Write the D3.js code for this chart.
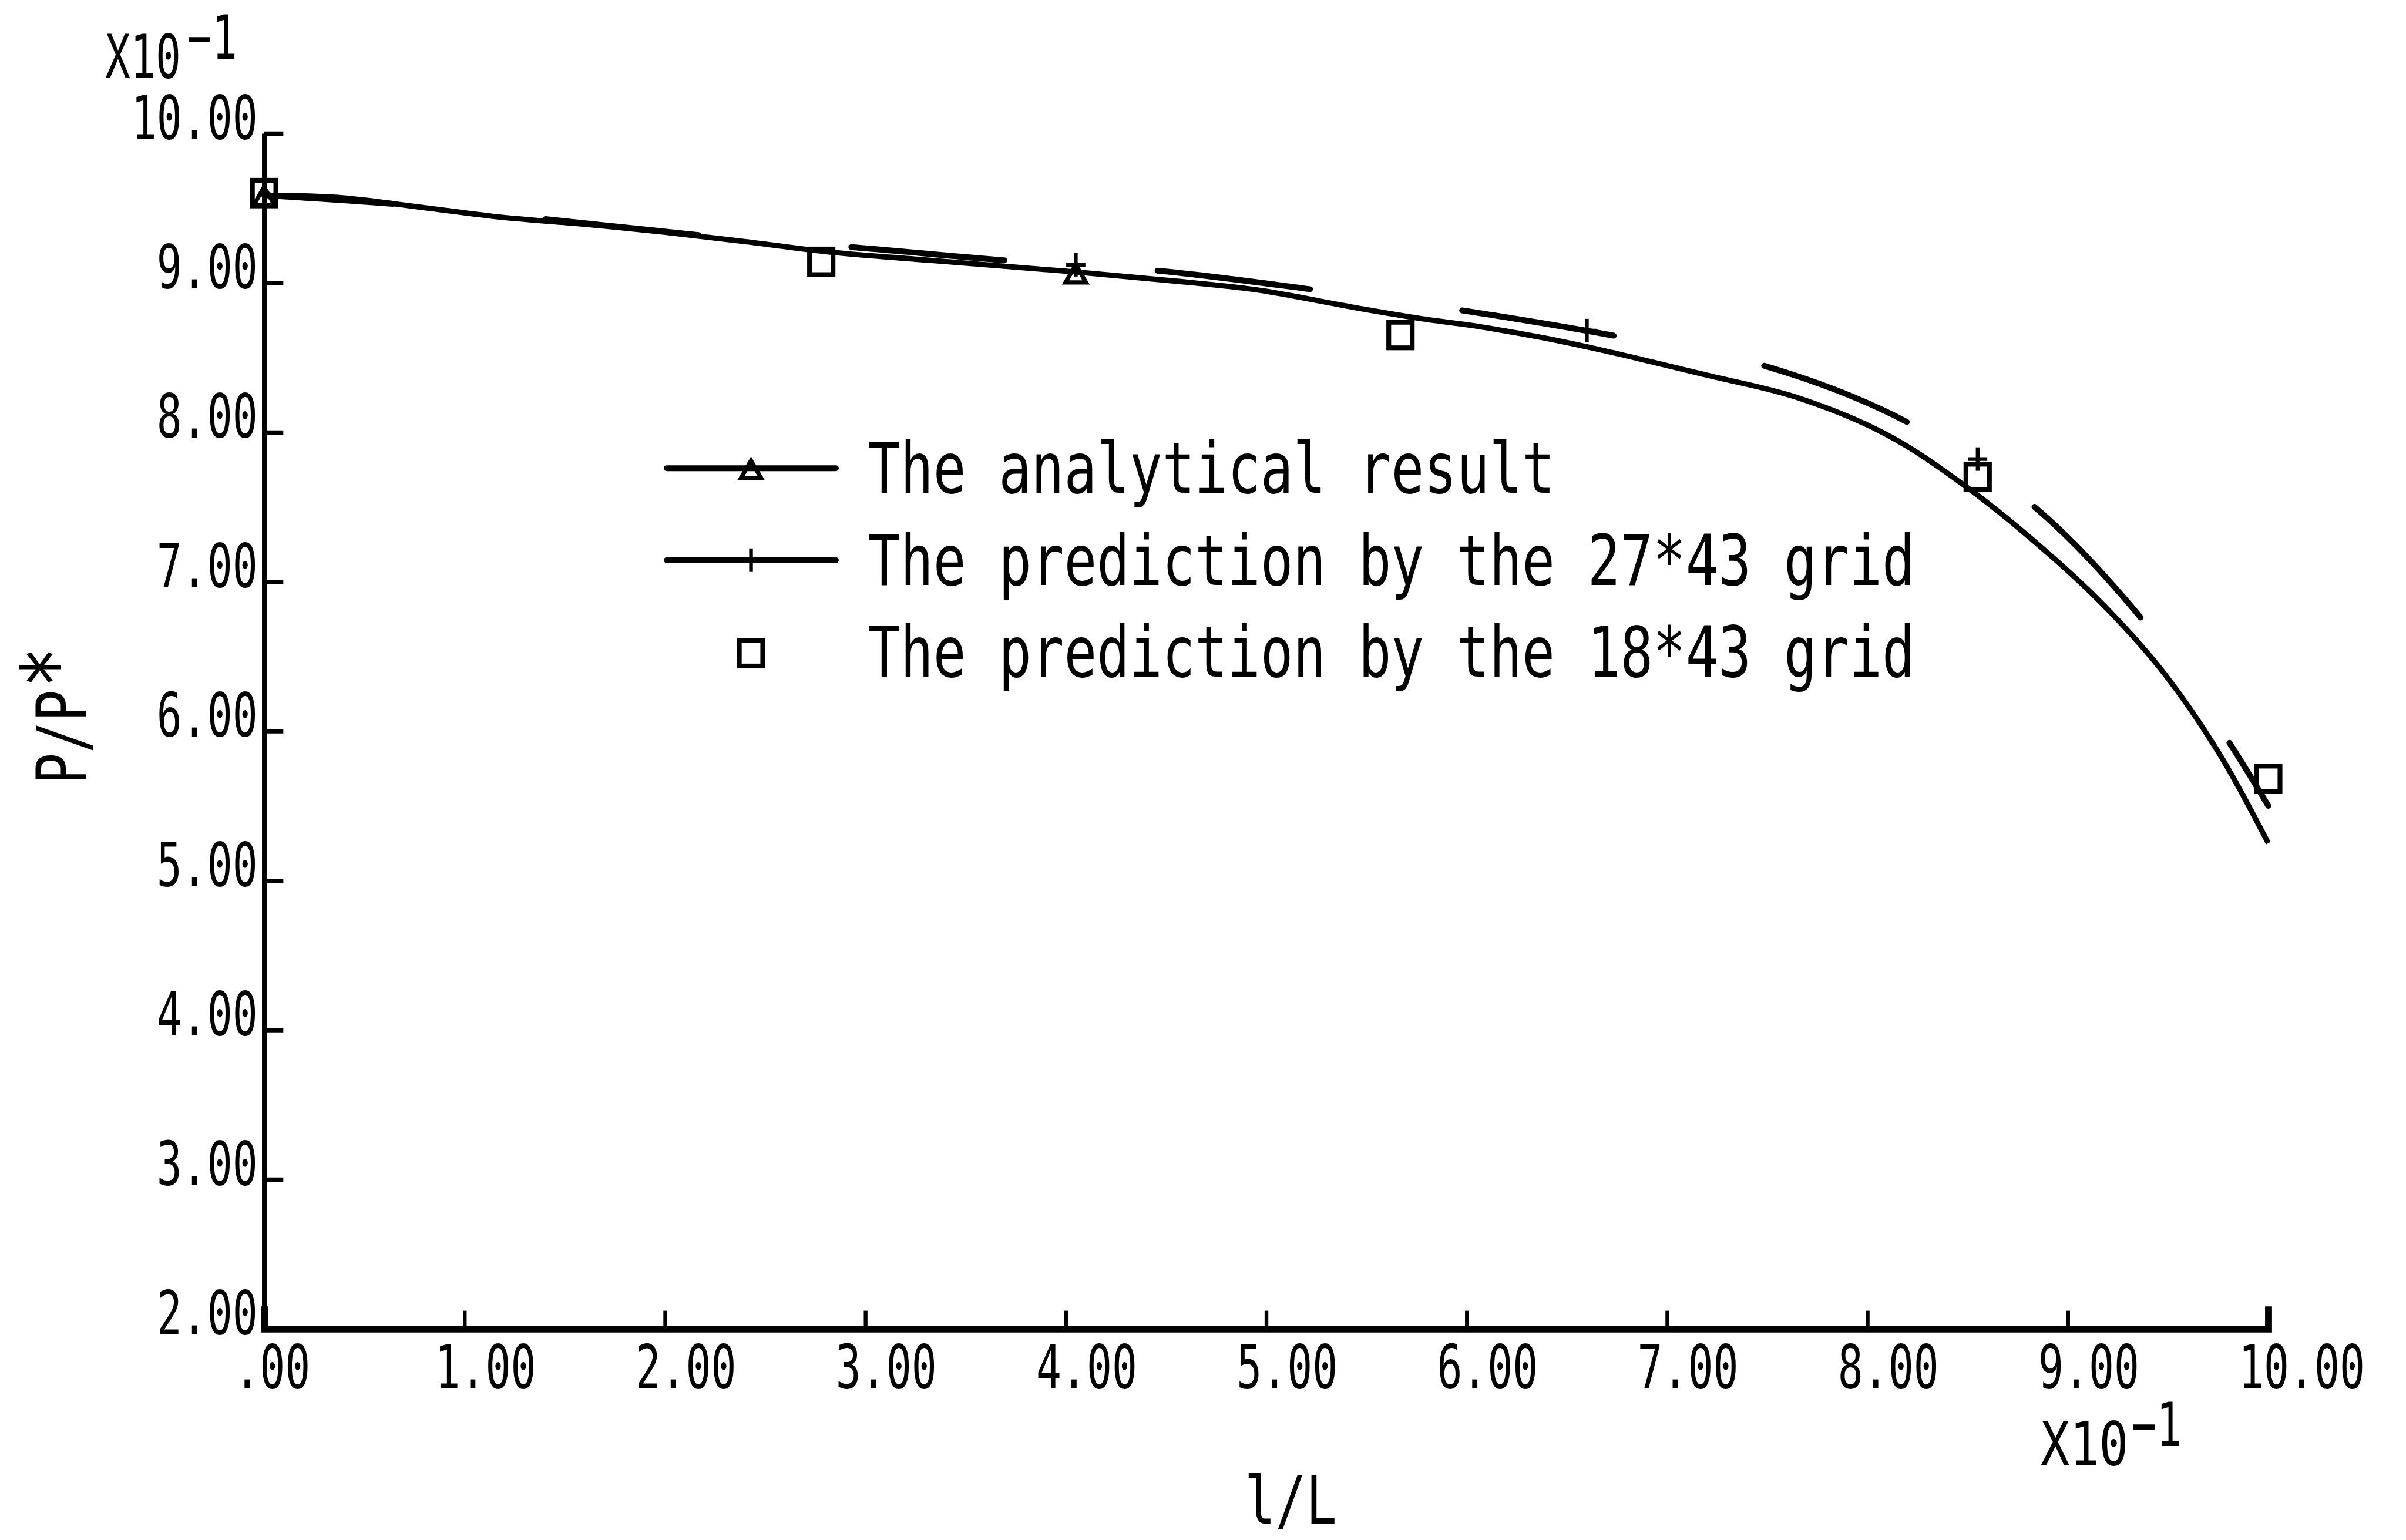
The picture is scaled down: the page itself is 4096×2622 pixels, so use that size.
<!DOCTYPE html>
<html>
<head>
<meta charset="utf-8">
<script src="https://cdn.jsdelivr.net/npm/d3@7"></script>
<style>
  html, body { margin: 0; padding: 0; background: #fff; }
  svg { display: block; background: #fff; }
  text { font-family: "DejaVu Sans Mono", "Liberation Mono", monospace; fill: #000; }
</style>
</head>
<body>
<svg id="chart" width="4096" height="2622" viewBox="0 0 4511 2888"></svg>
<script>
// ---- data (l/L and P/P*, both in units of 10^-1) ----
const analyticalX = [0, 0.367, 0.774, 1.181, 1.589, 1.996, 2.403, 2.810, 3.324, 4.058, 4.548, 4.944,
                     5.463, 5.769, 6.075, 6.381, 6.684, 7.198, 7.642, 8.087, 8.499,
                     8.941, 9.212, 9.484, 9.755, 10.0];
const analyticalY = [9.586, 9.571, 9.507, 9.439, 9.393, 9.339, 9.275, 9.207, 9.150, 9.071, 9.011, 8.954,
                     8.829, 8.761, 8.704, 8.632, 8.546, 8.382, 8.235, 7.990, 7.629,
                     7.143, 6.796, 6.380, 5.850, 5.25];
const triangleX = [0, 4.05];
const triangleY = [9.59, 9.07];

const grid27X = [0, 0.774, 1.589, 2.403, 2.927, 3.691, 4.470, 5.218, 5.982, 6.746, 7.488, 8.198, 8.821, 9.345, 9.768, 10.0];
const grid27Y = [9.586, 9.514, 9.400, 9.289, 9.239, 9.150, 9.079, 8.957, 8.814, 8.643, 8.443, 8.068, 7.514, 6.789, 6.000, 5.50];
const plusX = [4.05, 6.60, 8.55];
const plusY = [9.12, 8.68, 7.82];

const grid18X = [0, 2.78, 5.67, 8.55, 10.0];
const grid18Y = [9.60, 9.14, 8.65, 7.70, 5.68];

const xTickValues = [0, 1, 2, 3, 4, 5, 6, 7, 8, 9, 10];
const xTickLabels = [".00", "1.00", "2.00", "3.00", "4.00", "5.00", "6.00", "7.00", "8.00", "9.00", "10.00"];
const yTickValues = [2, 3, 4, 5, 6, 7, 8, 9, 10];
const yTickLabels = ["2.00", "3.00", "4.00", "5.00", "6.00", "7.00", "8.00", "9.00", "10.00"];

const legendLabels = ["The analytical result", "The prediction by the 27*43 grid", "The prediction by the 18*43 grid"];

// ---- layout ----
const svg = d3.select("#chart");
const x = d3.scaleLinear().domain([0, 10]).range([495, 4253]);
const y = d3.scaleLinear().domain([2, 10]).range([2492, 250]);

const SMALL = 114, SMALL_SX = 0.69;   // tick labels, exponent labels
const BIG = 132, BIG_SX = 0.772;      // legend and axis titles

function plotText(parent, px, py, str, size, sx, anchor, rot) {
  return parent.append("text")
    .attr("transform", `translate(${px},${py})${rot ? ` rotate(${rot})` : ""} scale(${sx},1)`)
    .attr("text-anchor", anchor || "start")
    .attr("font-size", size)
    .text(str);
}

// ---- axes ----
const xAxis = d3.axisBottom(x)
  .tickValues(xTickValues)
  .tickFormat((d, i) => xTickLabels[i])
  .tickSize(-34)
  .tickSizeOuter(-42);
const gx = svg.append("g").attr("transform", `translate(0,${y(2)})`).call(xAxis);
gx.attr("font-size", null).attr("font-family", null);
gx.select(".domain").attr("stroke", "#000").attr("stroke-width", 13).attr("fill", "none");
gx.selectAll(".tick line").attr("stroke", "#000").attr("stroke-width", 7);
gx.selectAll(".tick").filter(d => d === 0).select("line").remove();
gx.selectAll(".tick text")
  .attr("y", null).attr("dy", null)
  .attr("text-anchor", "start")
  .attr("font-size", SMALL)
  .attr("fill", "#000")
  .attr("transform", `translate(-56,112) scale(${SMALL_SX},1)`);

const yAxis = d3.axisLeft(y)
  .tickValues(yTickValues)
  .tickFormat((d, i) => yTickLabels[i])
  .tickSize(-36)
  .tickSizeOuter(0);
const gy = svg.append("g").attr("transform", `translate(${x(0)},0)`).call(yAxis);
gy.attr("font-size", null).attr("font-family", null);
gy.select(".domain").attr("stroke", "#000").attr("stroke-width", 9).attr("fill", "none");
gy.selectAll(".tick line").attr("stroke", "#000").attr("stroke-width", 8);
gy.selectAll(".tick text")
  .attr("x", null).attr("dy", null)
  .attr("text-anchor", "end")
  .attr("font-size", SMALL)
  .attr("fill", "#000")
  .attr("transform", `translate(-12,10) scale(${SMALL_SX},1)`);

// exponent notes and axis titles
plotText(svg, 197, 146, "X10", SMALL, SMALL_SX);
plotText(svg, 350, 110, "\u22121", SMALL, SMALL_SX);
plotText(svg, 3826, 2748, "X10", SMALL, 0.8);
plotText(svg, 3996, 2712, "\u22121", SMALL, SMALL_SX);
plotText(svg, 2420, 2857, "l/L", 124, 0.77, "middle");
plotText(svg, 162, 1471, "P/P", 130, 0.754, "start", -90);
plotText(svg, 162, 1290, "*", 170, 0.754, "start", -90);

// ---- curves ----
const line = d3.line()
  .x(d => x(d[0]))
  .y(d => y(d[1]))
  .curve(d3.curveCatmullRom.alpha(0.5));

const analytical = analyticalX.map((v, i) => [v, analyticalY[i]]);
const grid27 = grid27X.map((v, i) => [v, grid27Y[i]]);

svg.append("path")
  .datum(analytical)
  .attr("d", line)
  .attr("fill", "none")
  .attr("stroke", "#000")
  .attr("stroke-width", 10)
  .attr("stroke-linejoin", "round");

const path27 = svg.append("path")
  .datum(grid27)
  .attr("d", line)
  .attr("fill", "none")
  .attr("stroke", "#000")
  .attr("stroke-width", 11)
  .attr("stroke-linecap", "round")
  .attr("stroke-linejoin", "round");

// long-dash pen pattern, phased so a dash begins at l/L = 2.93
const dashOn = 288, dashOff = 288, dashPhaseX = 2.93;
{
  const node = path27.node();
  const total = node.getTotalLength();
  let lo = 0, hi = total;
  for (let k = 0; k < 40; k++) {
    const mid = (lo + hi) / 2;
    if (node.getPointAtLength(mid).x < x(dashPhaseX)) lo = mid; else hi = mid;
  }
  const period = dashOn + dashOff;
  path27.attr("stroke-dasharray", `${dashOn} ${dashOff}`)
        .attr("stroke-dashoffset", period - (lo % period));
}

// ---- markers ----
const triSym = d3.symbol().type(d3.symbolTriangle).size(640);
function drawTriangle(g, px, py) {
  g.append("path").attr("d", triSym())
    .attr("transform", `translate(${px},${py + 8})`)
    .attr("fill", "none").attr("stroke", "#000").attr("stroke-width", 8);
}
function drawPlus(g, px, py) {
  g.append("line").attr("x1", px).attr("x2", px).attr("y1", py - 22).attr("y2", py + 22)
    .attr("stroke", "#000").attr("stroke-width", 7);
  g.append("line").attr("x1", px - 18).attr("x2", px + 18).attr("y1", py).attr("y2", py)
    .attr("stroke", "#000").attr("stroke-width", 7);
}
function drawSquare(g, px, py) {
  g.append("rect").attr("x", px - 22).attr("y", py - 24).attr("width", 44).attr("height", 48)
    .attr("fill", "none").attr("stroke", "#000").attr("stroke-width", 9);
}

const marks = svg.append("g");
triangleX.forEach((v, i) => drawTriangle(marks, x(v), y(triangleY[i])));
plusX.forEach((v, i) => drawPlus(marks, x(v), y(plusY[i])));
grid18X.forEach((v, i) => drawSquare(marks, x(v), y(grid18Y[i])));

// ---- legend ----
const legend = svg.append("g");
const legBase = 924, legGap = 172.5, legLineX0 = 1250, legLineX1 = 1567, legMarkX = 1408, legTextX = 1627;
legendLabels.forEach((label, i) => {
  const base = legBase + i * legGap;
  const my = base - 46;
  if (i < 2) {
    legend.append("line").attr("x1", legLineX0).attr("x2", legLineX1).attr("y1", my).attr("y2", my)
      .attr("stroke", "#000").attr("stroke-width", 11).attr("stroke-linecap", "round");
  }
  if (i === 0) drawTriangle(legend, legMarkX, my);
  if (i === 1) drawPlus(legend, legMarkX, my);
  if (i === 2) drawSquare(legend, legMarkX, my + 2);
  plotText(legend, legTextX, base, label, BIG, BIG_SX);
});
</script>
</body>
</html>
